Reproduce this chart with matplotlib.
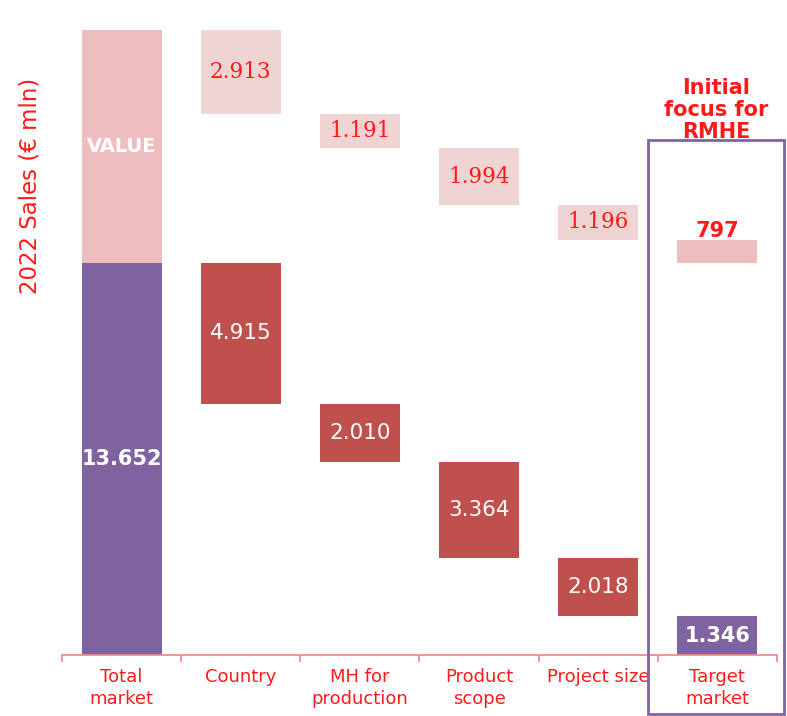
import matplotlib
matplotlib.use("Agg")
import matplotlib.pyplot as plt
from matplotlib.patches import Rectangle

categories = ["Total\nmarket", "Country", "MH for\nproduction", "Product\nscope", "Project size", "Target\nmarket"]
upper = [8.091, 2.913, 1.191, 1.994, 1.196, 0.797]
lower = [13.652, 4.915, 2.010, 3.364, 2.018, 1.346]
upper_labels = ["VALUE", "2.913", "1.191", "1.994", "1.196", "797"]
lower_labels = ["13.652", "4.915", "2.010", "3.364", "2.018", "1.346"]
ylabel = "2022 Sales (€ mln)"
focus_title = "Initial\nfocus for\nRMHE"

PURPLE = "#7F63A1"
DARKRED = "#C0504D"
PINK_TOT = "#EEBDBD"
PINK_DEC = "#F0D4D4"
RED = "#FF1A1A"
AXRED = "#F08C8C"

W, H = 787, 716
fig = plt.figure(figsize=(W / 100, H / 100), dpi=100)
ax = fig.add_axes([62 / W, 61 / H, 715 / W, 635 / H])

n = len(categories)
x = list(range(n))
bw = 0.67

# compute positions
lower_bottom = [0.0] * n
upper_bottom = [0.0] * n
lower_bottom[0] = 0.0
upper_bottom[0] = lower[0]
lo_top = lower[0]
up_top = lower[0] + upper[0]
for i in range(1, n):
    up_top -= upper[i]
    upper_bottom[i] = up_top
    lo_top -= lower[i]
    lower_bottom[i] = lo_top
lower_bottom[-1] = 0.0

for i in range(n):
    if i == 0 or i == n - 1:
        ucol, lcol = PINK_TOT, PURPLE
    else:
        ucol, lcol = PINK_DEC, DARKRED
    ax.bar(x[i], upper[i], bottom=upper_bottom[i], width=bw, color=ucol, linewidth=0)
    ax.bar(x[i], lower[i], bottom=lower_bottom[i], width=bw, color=lcol, linewidth=0)

# labels
for i in range(n):
    uc = upper_bottom[i] + upper[i] / 2
    lc = lower_bottom[i] + lower[i] / 2
    if i == 0:
        ax.text(x[i], uc, upper_labels[i], ha="center", va="center", color="white",
                fontsize=14, fontweight="bold", family="DejaVu Sans")
        ax.text(x[i], lc, lower_labels[i], ha="center", va="center", color="white",
                fontsize=15, fontweight="bold", family="DejaVu Sans")
    elif i == n - 1:
        ax.text(x[i], upper_bottom[i] + upper[i] + 0.3, upper_labels[i], ha="center", va="center",
                color=RED, fontsize=15, fontweight="bold", family="DejaVu Sans")
        ax.text(x[i], lc, lower_labels[i], ha="center", va="center", color="white",
                fontsize=15, fontweight="bold", family="DejaVu Sans")
    else:
        ax.text(x[i], uc, upper_labels[i], ha="center", va="center", color=RED,
                fontsize=15.5, family="DejaVu Serif")
        ax.text(x[i], lc, lower_labels[i], ha="center", va="center", color="white",
                fontsize=15.5, family="DejaVu Sans")

ax.set_xlim(-0.5, n - 0.5)
ax.set_ylim(0, 635 / 28.75)
for s in ["left", "top", "right"]:
    ax.spines[s].set_visible(False)
ax.spines["bottom"].set_color(AXRED)
ax.spines["bottom"].set_linewidth(1.3)
ax.set_yticks([])
ax.set_xticks(x)
ax.set_xticklabels(categories, color=RED, fontsize=13, linespacing=1.35)
ax.tick_params(axis="x", which="major", length=0, pad=9)
ax.set_xticks([i - 0.5 for i in range(n + 1)], minor=True)
ax.tick_params(axis="x", which="minor", length=5, color=AXRED, width=1.3, direction="out")

fig.text(30 / W, 1 - 186 / H, ylabel, rotation=90, ha="center", va="center",
         color=RED, fontsize=16.5)

# focus box
fig.add_artist(Rectangle((648 / W, 1 - 714 / H), (784 - 648) / W, (714 - 140) / H,
                         transform=fig.transFigure, fill=False, edgecolor="#8064A2",
                         linewidth=2, clip_on=False))
fig.text(716 / W, 1 - 110 / H, focus_title, ha="center", va="center", color=RED,
         fontsize=15, fontweight="bold", linespacing=1.1)

fig.savefig("out.png", dpi=100)
